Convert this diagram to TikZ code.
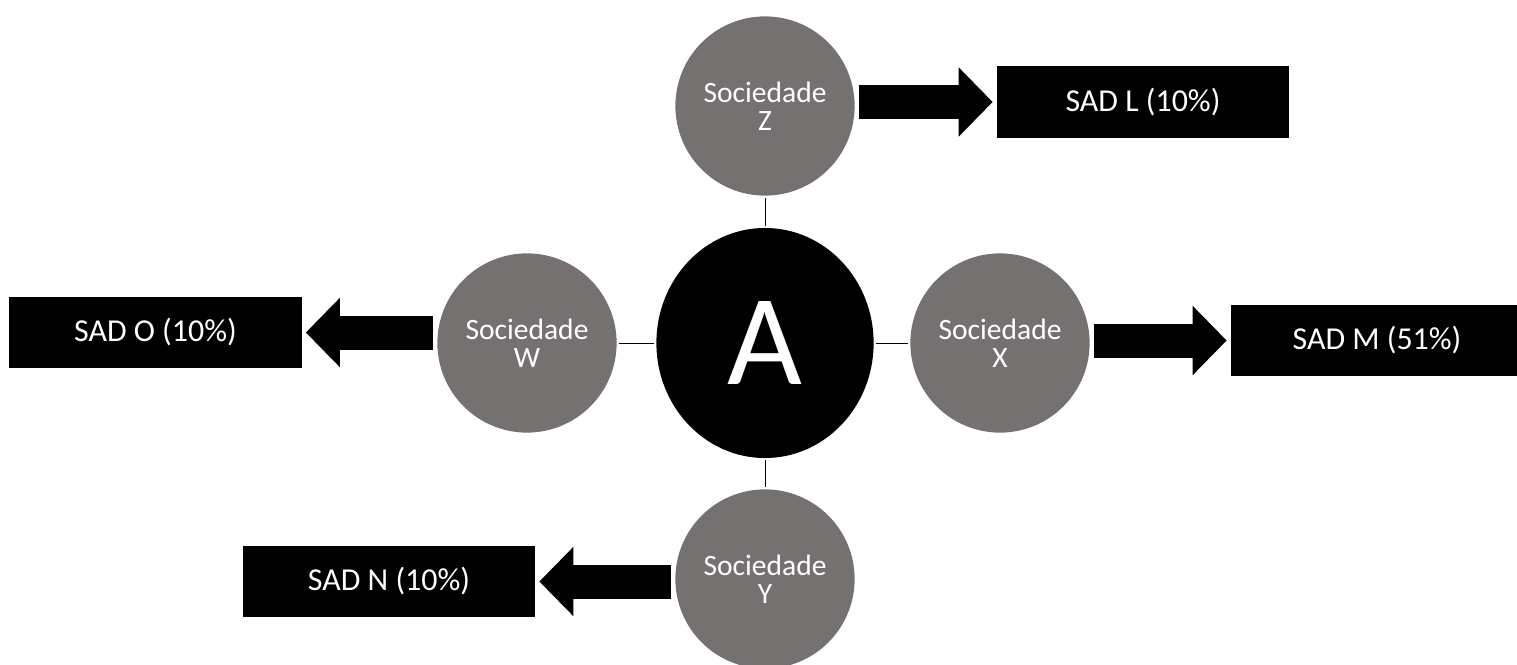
\documentclass[tikz,border=0pt]{standalone}
\usepackage{fontspec}
\setmainfont{Carlito}
\usetikzlibrary{arrows.meta,shapes.geometric}
\definecolor{mygray}{RGB}{118,113,113}

\begin{document}
\begin{tikzpicture}[x=0.025cm,y=-0.025cm]
\tikzset{CoreStyle/.style ={shape=ellipse, fill=black, text=white, inner sep=0pt, minimum width=5.43cm, minimum height=5.75cm, font=\fontsize{92}{92}\selectfont}}
\tikzset{SocStyle/.style ={shape=circle, fill=mygray, text=white, inner sep=0pt, minimum size=4.48cm, align=center, font=\fontsize{21}{20}\selectfont}}
\tikzset{SadStyle/.style ={shape=rectangle, fill=black, text=white, inner sep=0pt, minimum width=7.3cm, minimum height=1.78cm, font=\fontsize{22.7}{26}\selectfont}}
\tikzset{LinkStyle/.style ={line width=0.7pt, shorten <=0.05cm, shorten >=0.05cm}}
\tikzset{FlowStyle/.style ={line width=0.85cm, shorten <=0.1cm, shorten >=0.1cm, -{Triangle[length=0.85cm,width=1.68cm]}}}
\clip (0,0) rectangle (1517,664);
\node[CoreStyle] (A) at (765,343) {A};
\node[SocStyle] (Z) at (765,106) {Sociedade\\Z};
\node[SocStyle] (W) at (527,343) {Sociedade\\W};
\node[SocStyle] (X) at (1000,343) {Sociedade\\X};
\node[SocStyle] (Y) at (765,579) {Sociedade\\Y};
\node[SadStyle] (L) at (1143,102) {SAD L (10\%)};
\node[SadStyle] (M) at (1377,340.5) {SAD M (51\%)};
\node[SadStyle] (O) at (155.5,332.5) {SAD O (10\%)};
\node[SadStyle] (N) at (389,581.5) {SAD N (10\%)};
\draw[LinkStyle] (A) -- (Z);
\draw[LinkStyle] (A) -- (W);
\draw[LinkStyle] (A) -- (X);
\draw[LinkStyle] (A) -- (Y);
\draw[FlowStyle] (Z.east |- L.west) -- (L.west);
\draw[FlowStyle] (X.east |- M.west) -- (M.west);
\draw[FlowStyle] (W.west |- O.east) -- (O.east);
\draw[FlowStyle] (Y.west |- N.east) -- (N.east);
\end{tikzpicture}
\end{document}
